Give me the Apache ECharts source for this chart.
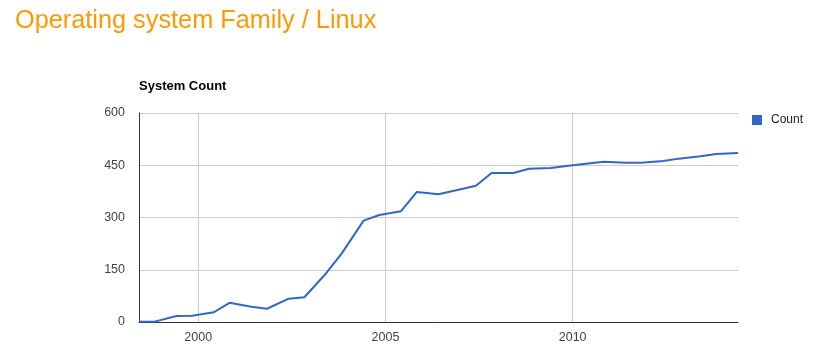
<!DOCTYPE html>
<html>
<head>
<meta charset="utf-8">
<script src="https://cdn.jsdelivr.net/npm/echarts@6/dist/echarts.min.js"></script>
<style>
html,body{margin:0;padding:0;background:#fff;}
#chart{width:818px;height:356px;}
</style>
</head>
<body>
<div id="chart"></div>
<script>
// Data
var listDates = ['1998-06','1998-11','1999-06','1999-11','2000-06','2000-11','2001-06','2001-11',
  '2002-06','2002-11','2003-06','2003-11','2004-06','2004-11','2005-06','2005-11','2006-06','2006-11',
  '2007-06','2007-11','2008-06','2008-11','2009-06','2009-11','2010-06','2010-11','2011-06','2011-11',
  '2012-06','2012-11','2013-06','2013-11','2014-06'];
var countValues = [1,1,17,18,28,55,44,38,67,71,140,197,291,307,318,373,367,377,391,428,428,440,442,448,
  455,460,457,457,462,469,476,482,485];
var xTickLabels = [2000, 2005, 2010];
var yTickLabels = [0, 150, 300, 450, 600];

function toYear(s){ var p = s.split('-'); return +p[0] + (+p[1] - 1) / 12; }
var seriesData = listDates.map(function(d, i){ return [toYear(d), countValues[i]]; });

var chart = echarts.init(document.getElementById('chart'), null, {renderer:'canvas'});
chart.setOption({
  animation: false,
  backgroundColor: '#fff',
  textStyle: {fontFamily: 'Arial, "Liberation Sans", sans-serif'},
  title: [
    {text: 'Operating system Family / Linux', left: 10, top: 4,
     textStyle: {fontSize: 25.3, fontWeight: 'normal', color: '#ff9900', fontFamily: 'Arial, "Liberation Sans", sans-serif'}},
    {text: 'System Count', left: 134, top: 75,
     textStyle: {fontSize: 13, fontWeight: 'bold', color: '#000', fontFamily: 'Arial, "Liberation Sans", sans-serif'}}
  ],
  legend: {
    data: ['Count'], left: 747, top: 109, orient: 'vertical',
    icon: 'rect', itemWidth: 10, itemHeight: 10, itemGap: 4,
    textStyle: {fontSize: 12, color: '#222', padding: [0,0,0,4]}
  },
  grid: {left: 139, top: 113, right: 80, bottom: 34, containLabel: false},
  xAxis: {
    type: 'value',
    min: seriesData[0][0], max: seriesData[seriesData.length-1][0],
    axisLine: {show: true, onZero: false, lineStyle: {color: '#333', width: 1}},
    axisTick: {show: false, customValues: xTickLabels},
    axisLabel: {customValues: xTickLabels, color: '#444', fontSize: 12.5, margin: 9,
      formatter: function(v){ return String(Math.round(v)); }},
    splitLine: {show: true, lineStyle: {color: '#ccc', width: 1}}
  },
  yAxis: {
    type: 'value', min: 0, max: 600, interval: 150,
    axisLine: {show: true, lineStyle: {color: '#333', width: 1}},
    axisTick: {show: false},
    axisLabel: {color: '#444', fontSize: 12.5, margin: 14,
      formatter: function(v){ return yTickLabels.indexOf(v) >= 0 ? String(v) : ''; }},
    splitLine: {show: true, lineStyle: {color: '#ccc', width: 1}}
  },
  series: [{
    name: 'Count', type: 'line', data: seriesData,
    showSymbol: false, symbol: 'none',
    lineStyle: {color: '#3366cc', width: 2},
    itemStyle: {color: '#3366cc'}
  }]
});
</script>
</body>
</html>
